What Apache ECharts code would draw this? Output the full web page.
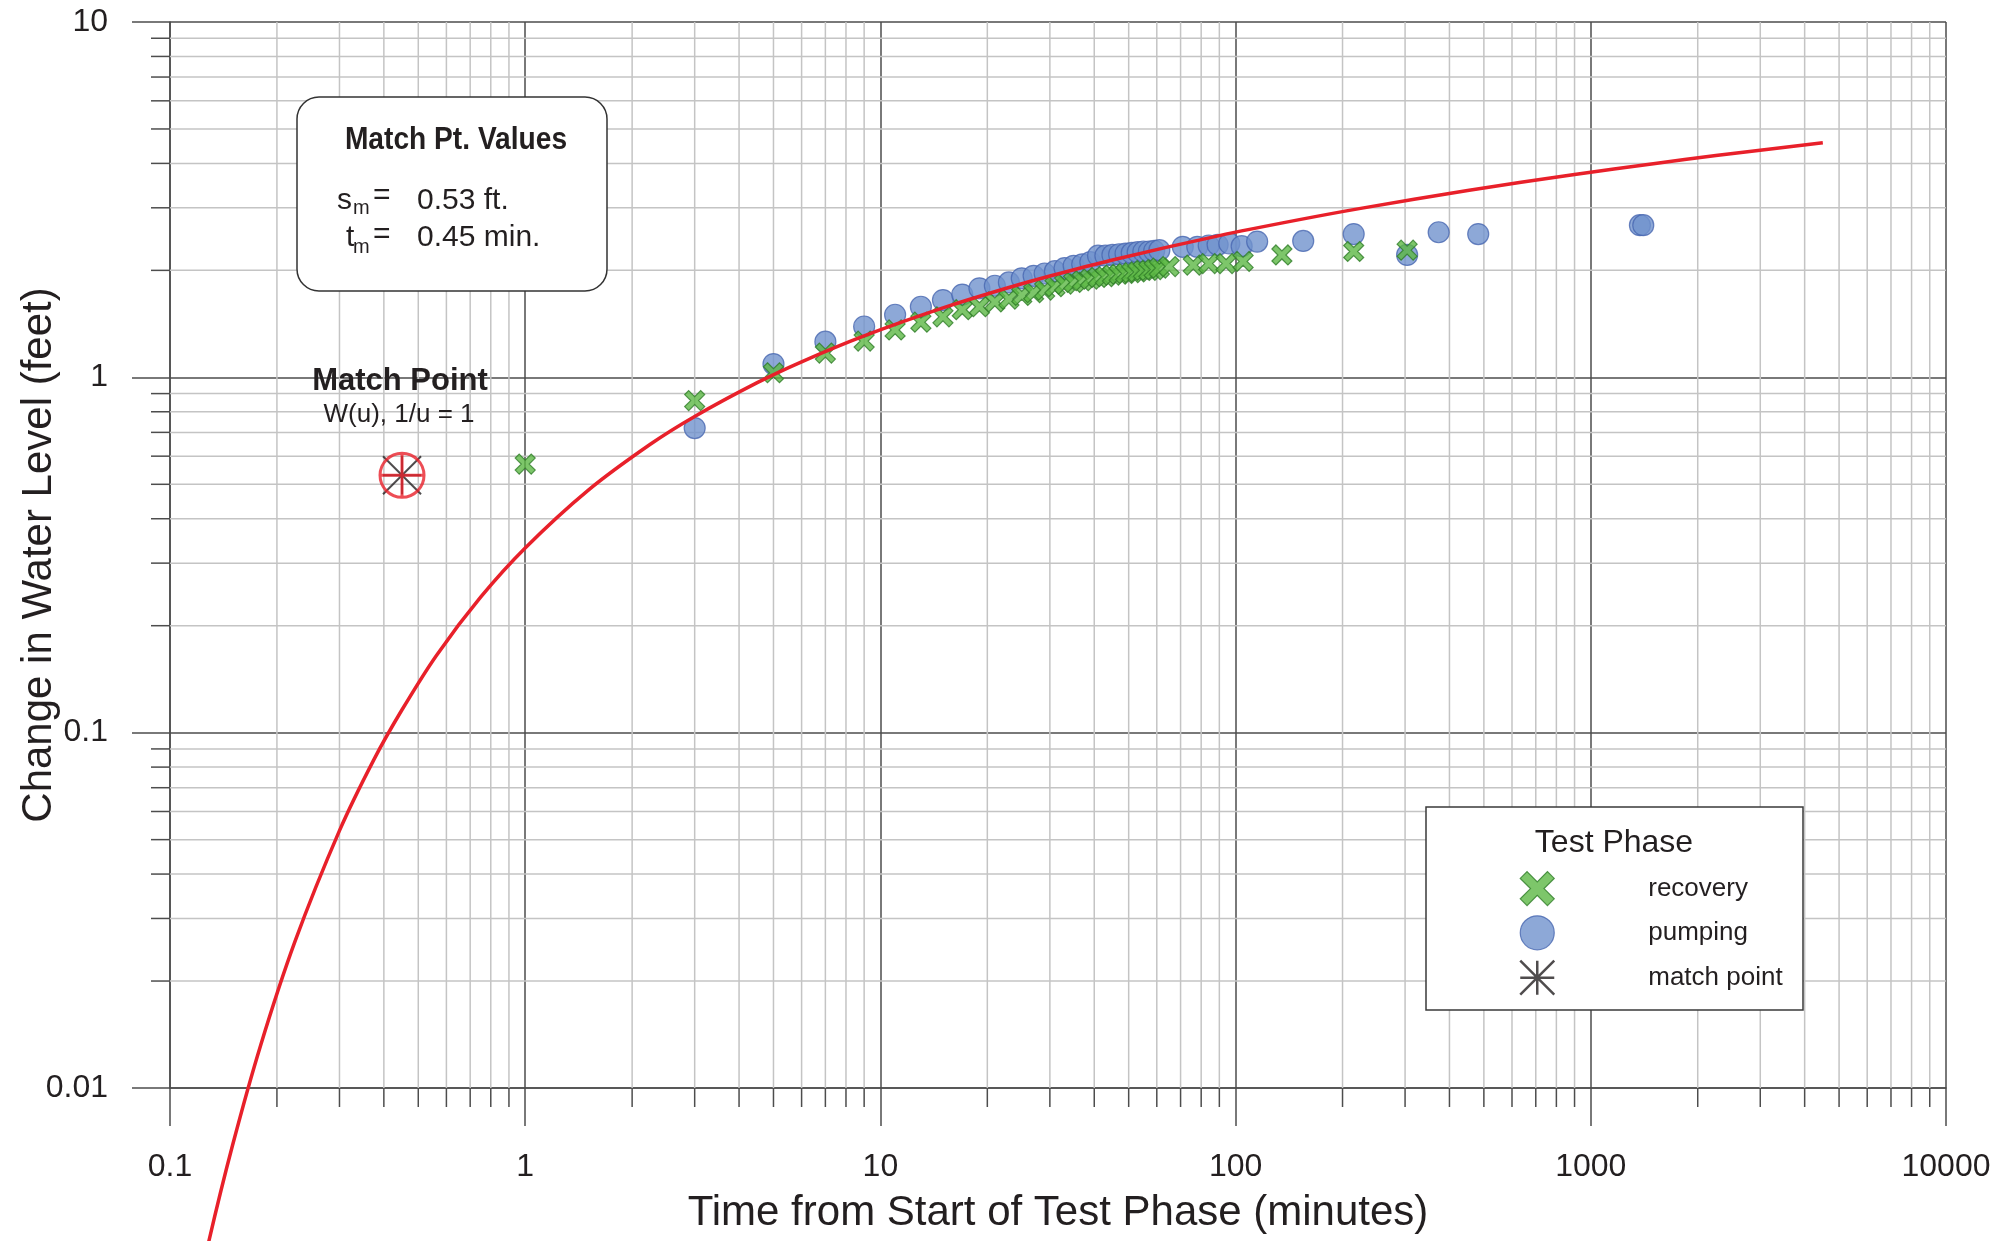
<!DOCTYPE html>
<html>
<head>
<meta charset="utf-8">
<script src="https://cdn.jsdelivr.net/npm/echarts@6/dist/echarts.min.js"></script>
<style>
html,body{margin:0;padding:0;background:#fff;}
#chart{width:2007px;height:1241px;}
</style>
</head>
<body>
<div id="chart"></div>
<script>
// ---------- DATA ----------
const xTickLabels = ['0.1', '1', '10', '100', '1000', '10000'];
const yTickLabels = ['0.01', '0.1', '1', '10'];
const xMinorTicks = [0.2,0.3,0.4,0.5,0.6,0.7,0.8,0.9, 2,3,4,5,6,7,8,9, 20,30,40,50,60,70,80,90,
                     200,300,400,500,600,700,800,900, 2000,3000,4000,5000,6000,7000,8000,9000];
const yMinorTicks = [0.02,0.03,0.04,0.05,0.06,0.07,0.08,0.09, 0.2,0.3,0.4,0.5,0.6,0.7,0.8,0.9, 2,3,4,5,6,7,8,9];

const recoveryTime = [1,3,5,7,9,11,13,15,17,19,21,23,25,27,29,31,33,35,37,39,41,43,45,47,49,51,53,55,57,59,61,
                      65,76,84,94,105,135,215,304];
const recoveryDrawdown = [0.57,0.86,1.03,1.17,1.265,1.36,1.43,1.48,1.55,1.58,1.63,1.66,1.70,1.73,1.76,1.80,1.83,1.85,1.87,1.89,1.91,1.92,1.94,1.95,1.96,1.97,1.98,2.00,2.00,2.01,2.03,
                          2.05,2.07,2.09,2.09,2.12,2.21,2.26,2.28];

const pumpingTime = [3,5,7,9,11,13,15,17,19,21,23,25,27,29,31,33,35,37,39,41,43,45,47,49,51,53,55,57,59,61,
                     71,78,84,89,96,104,115,155,215,304,373,482,1375,1405];
const pumpingDrawdown = [0.72,1.09,1.26,1.39,1.50,1.58,1.65,1.71,1.78,1.81,1.85,1.90,1.93,1.96,1.99,2.03,2.06,2.08,2.11,2.20,2.20,2.21,2.22,2.23,2.24,2.25,2.26,2.26,2.27,2.28,
                         2.33,2.33,2.35,2.36,2.38,2.34,2.41,2.42,2.53,2.21,2.56,2.53,2.68,2.68];

const typeCurveTime = [0.1125,0.1286,0.15,0.18,0.225,0.3,0.375,0.45,0.5625,0.75,1,1.5,2.25,3,4.5,6,9,15,22.5,30,45,90,150,225,450,900,1500,2250,4500];
const typeCurveDrawdown = [0.0020,0.0037,0.0069,0.0132,0.0259,0.053,0.084,0.116,0.165,0.241,0.331,0.480,0.648,0.776,0.966,1.106,1.308,1.568,1.778,1.928,2.140,2.505,2.774,2.989,3.356,3.723,3.993,4.208,4.576];

const matchPointTime = [0.45];
const matchPointDrawdown = [0.53];

const xMin = 0.1, xMax = 10000, yMin = 0.01, yMax = 10;

// ---------- STYLE ----------
const FONT = '"Liberation Sans", Arial, Helvetica, sans-serif';
const TXT = '#231f20';
const MAJOR = '#4d4d4d';
const MINOR = '#c4c4c4';
const X_PATH = 'path://M2,0L5,3L8,0L10,2L7,5L10,8L8,10L5,7L2,10L0,8L3,5L0,2Z';
const ASTER_PATH = 'path://M0,0L10,10M10,0L0,10M5,0L5,10M0,5L10,5';
const RING_PATH = 'path://M0,5A5,5,0,1,1,10,5A5,5,0,1,1,0,5ZM5,0L5,10M0,5L10,5';
const GREEN = {color: '#5cb845', borderColor: '#2f7d28', borderWidth: 1.2};
const BLUE = {color: '#7092cd', borderColor: '#4766b0', borderWidth: 1.2};

const zip = (a, b) => a.map((v, i) => [v, b[i]]);

function xMinorItem(params, api) {
  const v = api.value(0);
  const top = api.coord([v, yMax]);
  const bot = api.coord([v, yMin]);
  return {type: 'group', children: [
    {type: 'line', shape: {x1: top[0], y1: top[1], x2: bot[0], y2: bot[1]}, style: {stroke: MINOR, lineWidth: 1.5}},
    {type: 'line', shape: {x1: bot[0], y1: bot[1], x2: bot[0], y2: bot[1] + 19}, style: {stroke: MAJOR, lineWidth: 1.5}}
  ]};
}
function yMinorItem(params, api) {
  const v = api.value(1);
  const left = api.coord([xMin, v]);
  const right = api.coord([xMax, v]);
  return {type: 'group', children: [
    {type: 'line', shape: {x1: left[0], y1: left[1], x2: right[0], y2: right[1]}, style: {stroke: MINOR, lineWidth: 1.5}},
    {type: 'line', shape: {x1: left[0] - 19, y1: left[1], x2: left[0], y2: left[1]}, style: {stroke: MAJOR, lineWidth: 1.5}}
  ]};
}

const chart = echarts.init(document.getElementById('chart'), null, {renderer: 'canvas'});

const txt = (text, x, y, size, extra) => Object.assign({
  type: 'text', x: x, y: y, z: 60,
  style: Object.assign({text: text, fontSize: size, fontFamily: FONT, fill: TXT, align: 'left', verticalAlign: 'middle'}, (extra && extra.style) || {})
}, extra && extra.el || {});

chart.setOption({
  animation: false,
  backgroundColor: '#fff',
  grid: {left: 170, right: 61, top: 22, bottom: 153, containLabel: false, outerBoundsMode: 'none'},
  xAxis: {
    type: 'log', logBase: 10, min: xMin, max: xMax, interval: 1,
    name: 'Time from Start of Test Phase (minutes)',
    nameLocation: 'middle', nameGap: 104, nameMoveOverlap: false,
    nameTextStyle: {fontSize: 42, fontFamily: FONT, color: TXT},
    axisLine: {show: true, lineStyle: {color: MAJOR, width: 1.5}},
    axisTick: {show: true, inside: false, length: 38, lineStyle: {color: MAJOR, width: 1.5}},
    axisLabel: {fontSize: 32, fontFamily: FONT, color: TXT, margin: 63,
      formatter: v => xTickLabels[Math.round(Math.log10(v)) + 1]},
    splitLine: {show: true, lineStyle: {color: MAJOR, width: 1.5}},
    minorTick: {show: false}, minorSplitLine: {show: false}
  },
  yAxis: {
    type: 'log', logBase: 10, min: yMin, max: yMax, interval: 1,
    name: 'Change in Water Level (feet)',
    nameLocation: 'middle', nameGap: 110, nameMoveOverlap: false,
    nameTextStyle: {fontSize: 42, fontFamily: FONT, color: TXT},
    axisLine: {show: true, lineStyle: {color: MAJOR, width: 1.5}},
    axisTick: {show: true, inside: false, length: 38, lineStyle: {color: MAJOR, width: 1.5}},
    axisLabel: {fontSize: 32, fontFamily: FONT, color: TXT, margin: 62,
      formatter: v => yTickLabels[Math.round(Math.log10(v)) + 2]},
    splitLine: {show: true, lineStyle: {color: MAJOR, width: 1.5}},
    minorTick: {show: false}, minorSplitLine: {show: false}
  },
  legend: {
    orient: 'vertical', left: 1519, top: 871,
    itemWidth: 34, itemHeight: 34, itemGap: 9, padding: 0,
    selectedMode: false, z: 20,
    textStyle: {fontSize: 26, fontFamily: FONT, color: TXT, padding: [0, 0, 0, 89]},
    data: [
      {name: 'recovery', icon: X_PATH, itemStyle: GREEN},
      {name: 'pumping', icon: 'circle', itemStyle: BLUE},
      {name: 'match point', icon: ASTER_PATH, itemStyle: {color: 'rgba(0,0,0,0)', borderColor: TXT, borderWidth: 2.5}}
    ]
  },
  graphic: [
    {type: 'rect', z: 15, shape: {x: 1426, y: 807, width: 377, height: 203}, style: {fill: '#fff', stroke: '#3a3a3a', lineWidth: 1.5}},
    txt('Test Phase', 1614, 843, 32, {style: {align: 'center'}}),
    {type: 'rect', z: 55, shape: {x: 297, y: 97, width: 310, height: 194, r: 22}, style: {fill: '#fff', stroke: '#333', lineWidth: 1.5}},
    txt('Match Pt. Values', 456, 140, 32, {style: {align: 'center', fontWeight: 'bold'}, el: {scaleX: 0.88}}),
    txt('s', 337, 201, 30),
    txt('m', 353, 208, 20),
    txt('=', 373, 196, 30),
    txt('0.53 ft.', 417, 201, 30),
    txt('t', 346, 238, 30),
    txt('m', 353, 247, 20),
    txt('=', 373, 235, 30),
    txt('0.45 min.', 417, 238, 30),
    txt('Match Point', 400, 381, 31, {style: {align: 'center', fontWeight: 'bold'}}),
    txt('W(u), 1/u = 1', 399, 415, 26, {style: {align: 'center'}})
  ],
  series: [
    {type: 'custom', name: 'xminor', silent: true, z: 1, clip: false,
     data: xMinorTicks.map(v => [v, yMax]), renderItem: xMinorItem},
    {type: 'custom', name: 'yminor', silent: true, z: 1, clip: false,
     data: yMinorTicks.map(v => [xMin, v]), renderItem: yMinorItem},
    {type: 'scatter', name: 'pumping', z: 3, symbol: 'circle', symbolSize: 21,
     itemStyle: BLUE, data: zip(pumpingTime, pumpingDrawdown)},
    {type: 'scatter', name: 'recovery', z: 4, symbol: X_PATH, symbolSize: 20,
     itemStyle: GREEN, data: zip(recoveryTime, recoveryDrawdown)},
    {type: 'line', name: 'type curve', z: 5, clip: false, smooth: 0.3, showSymbol: false,
     lineStyle: {color: '#e8202a', width: 3.5}, data: zip(typeCurveTime, typeCurveDrawdown)},
    {type: 'scatter', name: 'match point', z: 6, symbol: ASTER_PATH, symbolSize: 38,
     itemStyle: {color: 'rgba(0,0,0,0)', borderColor: TXT, borderWidth: 2},
     data: zip(matchPointTime, matchPointDrawdown)},
    {type: 'scatter', name: 'match ring', z: 7, symbol: RING_PATH, symbolSize: 44,
     itemStyle: {color: 'rgba(0,0,0,0)', borderColor: '#e8202a', borderWidth: 3},
     data: zip(matchPointTime, matchPointDrawdown)}
  ]
});
</script>
</body>
</html>
